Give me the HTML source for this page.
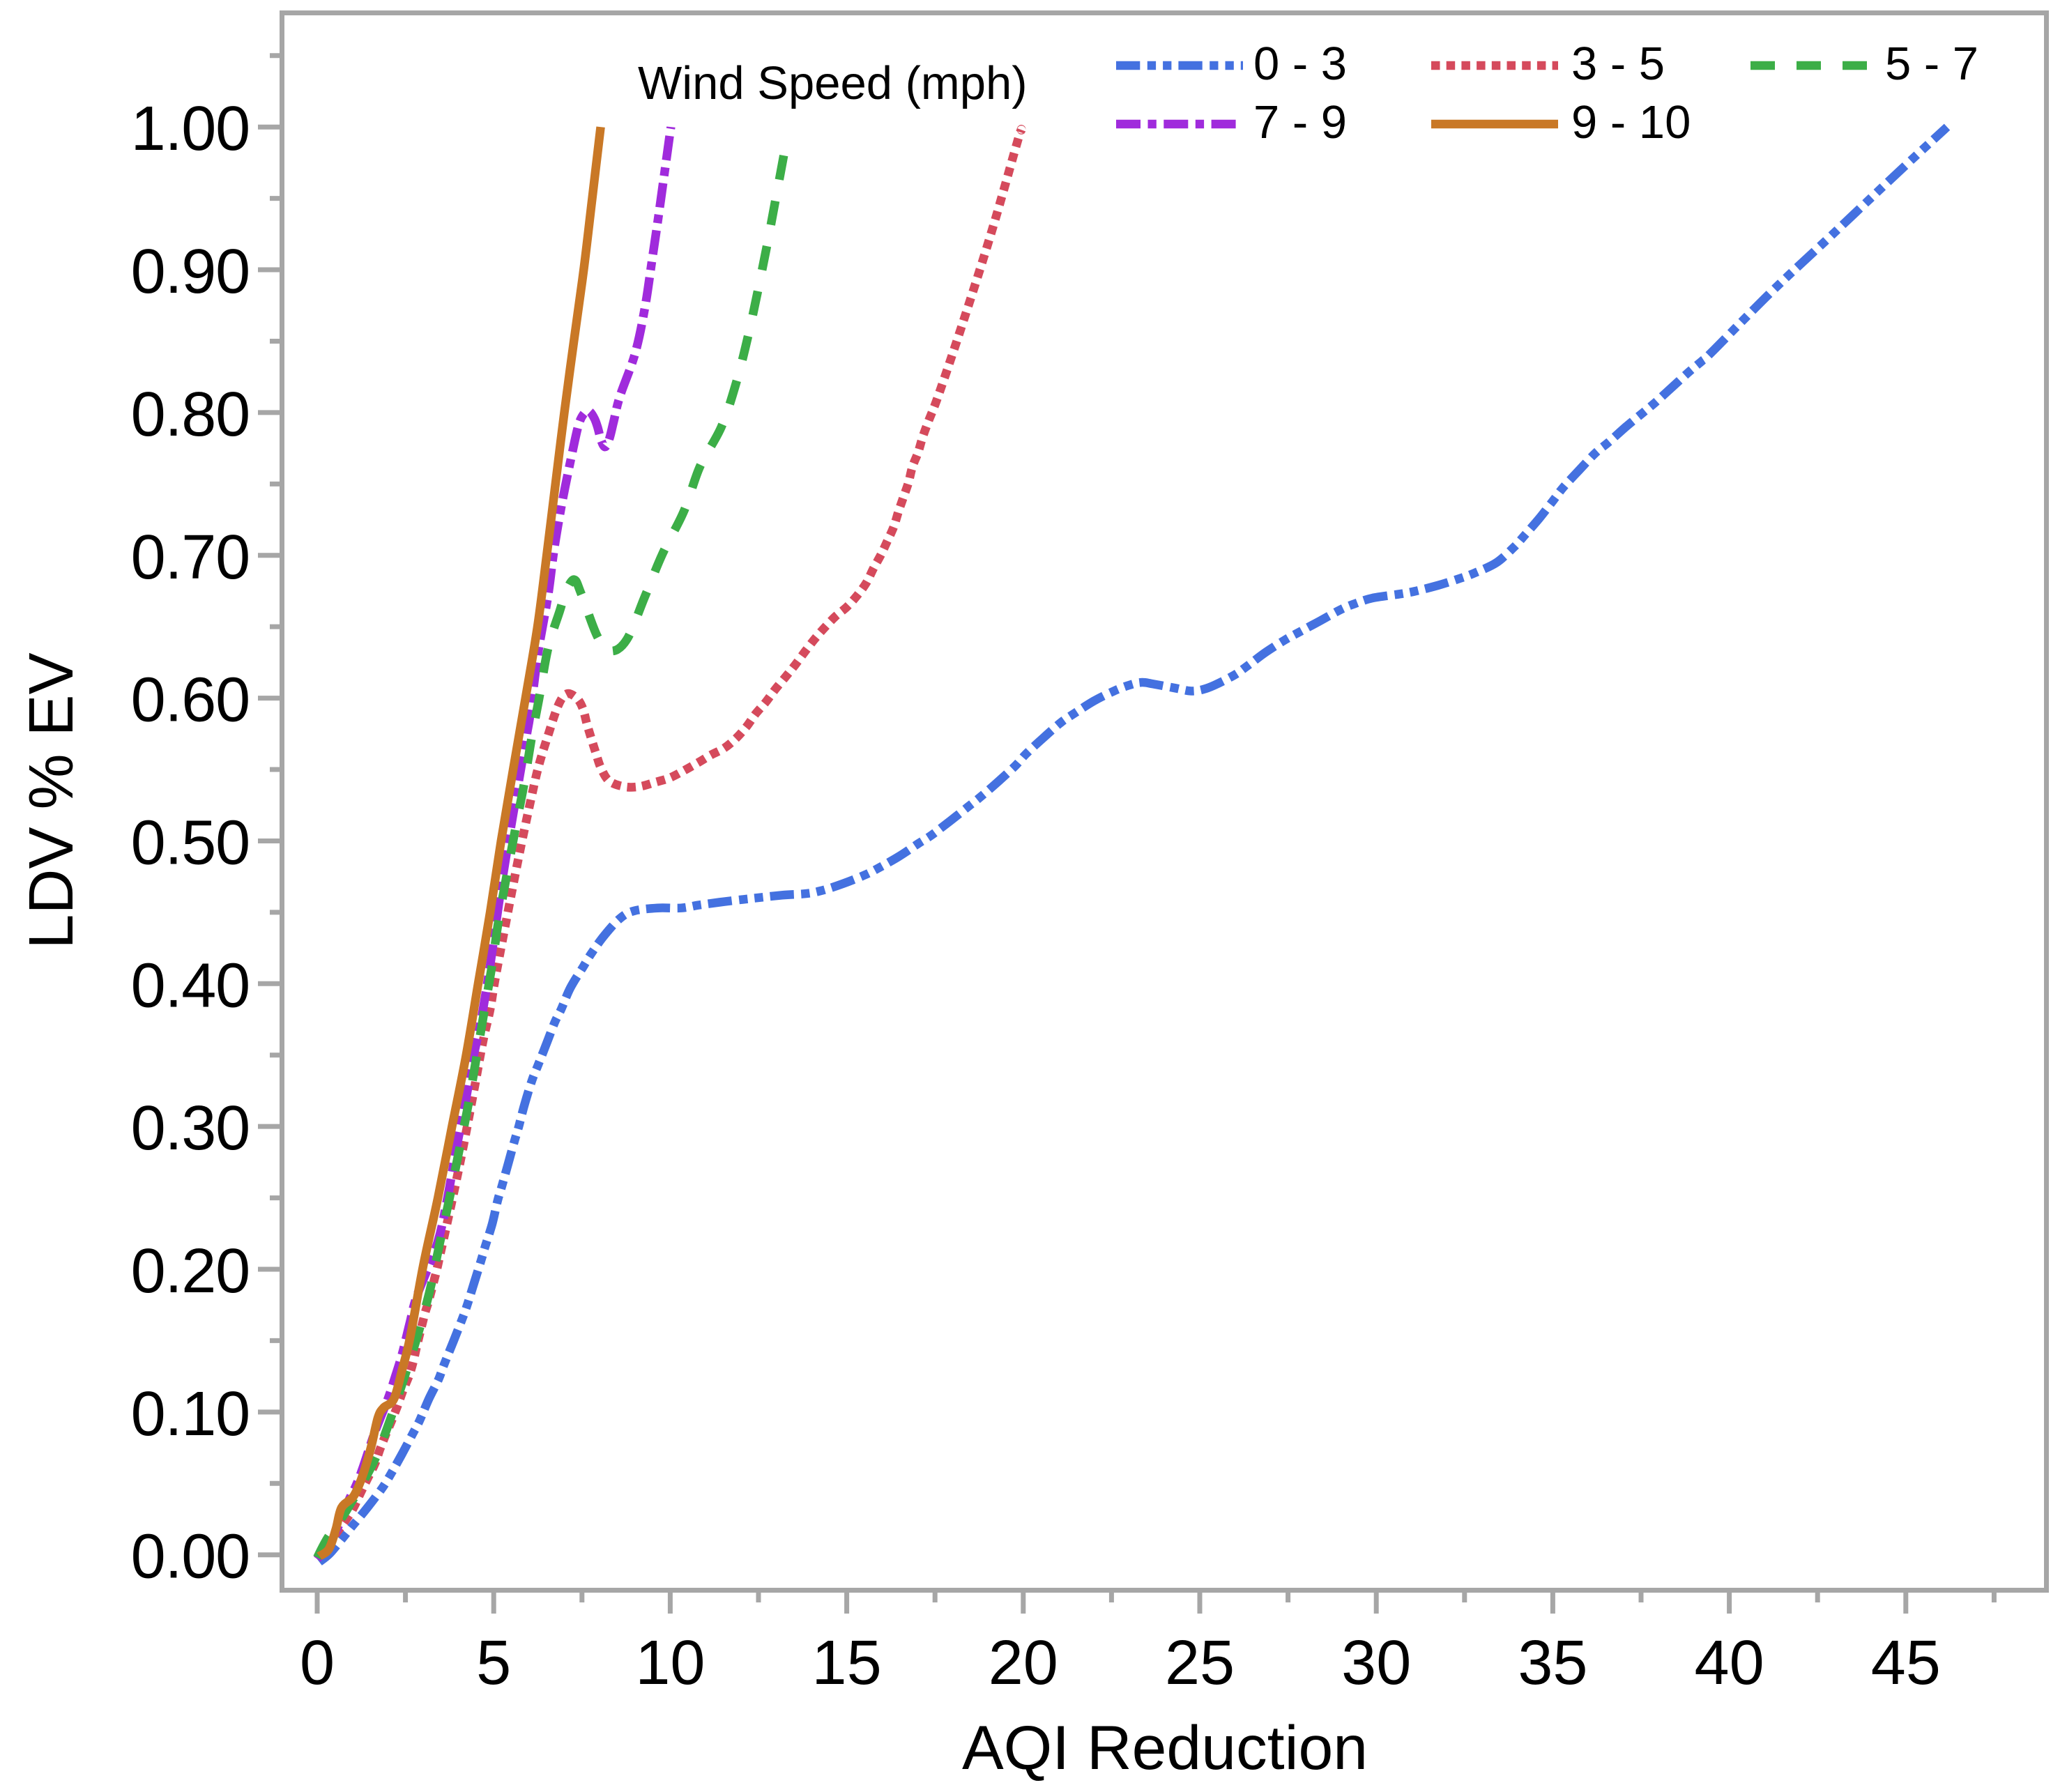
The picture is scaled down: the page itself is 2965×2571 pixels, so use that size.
<!DOCTYPE html>
<html lang="en">
<head>
<meta charset="utf-8">
<title>LDV % EV vs AQI Reduction</title>
<style>
  html, body { margin: 0; padding: 0; background: #fff; }
  svg { display: block; font-family: "Liberation Sans", Arial, sans-serif; }
</style>
</head>
<body>
<svg id="chart" xmlns="http://www.w3.org/2000/svg" width="2965" height="2571" viewBox="0 0 2965 2571">
  <rect x="0" y="0" width="2965" height="2571" fill="#ffffff"/>
  <g id="series-layer"></g>
  <g id="axis-layer"></g>
  <rect x="404.5" y="18.5" width="2531" height="2263" fill="none" stroke="#a6a6a6" stroke-width="7"/>
  <text x="1671" y="2538" font-size="89.5" text-anchor="middle">AQI Reduction</text>
  <text transform="translate(104 1149) rotate(-90)" font-size="90" text-anchor="middle">LDV % EV</text>
  <g>
    <text x="915" y="142" font-size="67">Wind Speed (mph)</text>
    <g>
      <line x1="1601" y1="94" x2="1783" y2="94" stroke="#4471E0" stroke-width="12.5" stroke-dasharray="34.3 10.5 12.3 10 12.3 10"/>
      <text x="1798" y="114" font-size="67">0 - 3</text>
    </g>
    <g>
      <line x1="2053" y1="94" x2="2235" y2="94" stroke="#D54A5C" stroke-width="12.5" stroke-dasharray="12.5 9.2"/>
      <text x="2254" y="114" font-size="67">3 - 5</text>
    </g>
    <g>
      <line x1="2511" y1="94" x2="2685" y2="94" stroke="#3CAE47" stroke-width="12.5" stroke-dasharray="35 31"/>
      <text x="2704" y="114" font-size="67">5 - 7</text>
    </g>
    <g>
      <line x1="1601" y1="178" x2="1783" y2="178" stroke="#A02BDC" stroke-width="12.5" stroke-dasharray="35 10.5 12.3 10.5"/>
      <text x="1798" y="198" font-size="67">7 - 9</text>
    </g>
    <g>
      <line x1="2053" y1="178" x2="2235" y2="178" stroke="#C97826" stroke-width="12.5"/>
      <text x="2254" y="198" font-size="67">9 - 10</text>
    </g>
  </g>
</svg>
<script>
const xMajorTicks = [0, 5, 10, 15, 20, 25, 30, 35, 40, 45];
const xMinorTicks = [2.5, 7.5, 12.5, 17.5, 22.5, 27.5, 32.5, 37.5, 42.5, 47.5];
const yMajorTicks = [0, 0.1, 0.2, 0.3, 0.4, 0.5, 0.6, 0.7, 0.8, 0.9, 1];
const yMinorTicks = [0.05, 0.15, 0.25, 0.35, 0.45, 0.55, 0.65, 0.75, 0.85, 0.95, 1.05];
const yTickLabels = ["0.00", "0.10", "0.20", "0.30", "0.40", "0.50", "0.60", "0.70", "0.80", "0.90", "1.00"];
const xTickLabels = ["0", "5", "10", "15", "20", "25", "30", "35", "40", "45"];

const speed0to3X = [0.06,0.36,0.73,0.99,1.42,1.82,2.05,2.39,2.69,2.90,3.16,3.44,3.59,3.85,4.09,4.25,4.44,4.64,4.76,4.96,5.11,5.23,5.41,5.59,5.71,5.88,6.08,6.24,6.48,6.73,6.91,7.17,7.54,7.76,8.14,8.59,8.98,9.64,10.31,10.80,11.39,12.07,13.17,13.82,14.26,14.89,15.50,15.90,16.47,17.02,17.40,17.93,18.44,18.80,19.31,19.79,20.08,20.56,21.07,21.43,22.0,22.57,22.99,23.34,23.66,24.31,24.74,25.08,25.41,25.97,26.32,26.86,27.43,27.80,28.40,28.99,29.38,29.88,30.69,31.12,31.75,32.39,32.82,33.41,33.91,34.20,34.62,35.03,35.31,35.76,36.22,36.57,37.07,37.56,37.90,38.39,38.88,39.22,39.53,41.21,42.89,44.77,46.17];
const speed0to3Y = [-0.005,0.001,0.012,0.020,0.033,0.046,0.055,0.070,0.084,0.094,0.109,0.123,0.133,0.149,0.164,0.175,0.190,0.206,0.216,0.232,0.248,0.258,0.274,0.290,0.300,0.316,0.332,0.342,0.357,0.373,0.382,0.397,0.412,0.421,0.434,0.446,0.451,0.453,0.453,0.455,0.457,0.459,0.462,0.463,0.465,0.470,0.476,0.481,0.489,0.498,0.504,0.514,0.524,0.531,0.542,0.553,0.561,0.572,0.583,0.589,0.598,0.605,0.609,0.611,0.610,0.607,0.605,0.606,0.609,0.616,0.622,0.632,0.641,0.646,0.654,0.662,0.666,0.670,0.673,0.675,0.679,0.684,0.688,0.695,0.706,0.714,0.726,0.739,0.748,0.760,0.772,0.779,0.790,0.800,0.807,0.818,0.829,0.836,0.843,0.885,0.924,0.968,1.0];

const speed3to5X = [0,0.83,1.05,1.24,1.44,1.64,1.78,1.94,2.11,2.27,2.43,2.61,2.73,2.82,3.04,3.16,3.38,3.48,3.67,3.95,4.21,4.46,4.70,4.90,5.04,5.37,5.71,6.08,6.28,6.54,6.83,7.07,7.35,7.52,7.64,7.76,7.90,8.04,8.27,8.69,9.12,9.56,9.97,10.37,10.80,11.14,11.53,11.87,12.16,12.42,12.70,12.97,13.27,13.53,13.80,14.08,14.36,14.67,15.01,15.30,15.56,15.76,15.96,16.15,16.33,16.47,16.61,16.75,16.86,17.02,17.14,17.30,17.61,18.33,19.12,19.85,19.95];
const speed3to5Y = [-0.003,0.025,0.034,0.044,0.054,0.064,0.074,0.084,0.094,0.104,0.115,0.126,0.136,0.146,0.168,0.178,0.199,0.210,0.231,0.263,0.295,0.328,0.360,0.382,0.403,0.446,0.489,0.532,0.553,0.574,0.595,0.603,0.600,0.593,0.582,0.572,0.561,0.551,0.542,0.538,0.538,0.541,0.544,0.549,0.555,0.560,0.565,0.572,0.580,0.589,0.597,0.606,0.615,0.623,0.632,0.641,0.649,0.657,0.664,0.672,0.681,0.691,0.700,0.710,0.720,0.731,0.741,0.751,0.762,0.772,0.782,0.793,0.813,0.866,0.928,0.991,0.998];

const speed5to7X = [0,0.30,0.83,1.58,2.03,2.53,2.86,3.20,3.46,3.75,4.01,4.27,4.50,4.70,4.94,5.13,5.37,5.61,5.86,6.08,6.28,6.54,6.87,7.05,7.28,7.48,7.94,8.31,8.77,9.28,9.78,10.39,10.84,11.45,11.87,12.20,12.48,12.74,12.99,13.29];
const speed5to7Y = [-0.002,0.012,0.031,0.064,0.092,0.129,0.155,0.186,0.217,0.250,0.282,0.314,0.347,0.376,0.411,0.443,0.476,0.508,0.540,0.573,0.599,0.635,0.661,0.675,0.683,0.673,0.643,0.633,0.641,0.671,0.701,0.731,0.762,0.790,0.821,0.853,0.885,0.917,0.950,0.990];

const speed7to9X = [0,0.33,0.60,0.89,1.09,1.28,1.62,2.0,2.2,2.4,2.63,2.82,3.40,3.69,3.93,4.19,4.42,4.64,4.90,5.08,5.27,5.49,5.71,5.94,6.04,6.26,6.54,6.71,6.93,7.20,7.40,7.55,7.70,7.85,7.94,8.05,8.16,8.28,8.40,8.57,9.0,9.28,9.48,9.67,9.85,9.99,10.02];
const speed7to9Y = [-0.003,0.008,0.020,0.038,0.048,0.060,0.085,0.109,0.124,0.140,0.163,0.181,0.218,0.250,0.283,0.316,0.348,0.374,0.413,0.445,0.477,0.510,0.542,0.575,0.590,0.632,0.672,0.704,0.736,0.769,0.791,0.799,0.801,0.796,0.790,0.780,0.776,0.782,0.794,0.811,0.841,0.873,0.906,0.938,0.970,0.995,1.0];

const speed9to10X = [0.06,0.33,0.53,0.69,1.03,1.28,1.52,1.72,1.88,2.17,2.41,2.63,3.00,3.42,3.82,4.22,4.56,4.90,5.21,5.55,5.90,6.24,6.50,6.75,7.00,7.27,7.55,7.79,8.03];
const speed9to10Y = [-0.001,0.004,0.018,0.033,0.041,0.055,0.075,0.096,0.103,0.109,0.130,0.152,0.202,0.250,0.300,0.350,0.400,0.450,0.500,0.550,0.600,0.650,0.700,0.750,0.800,0.850,0.900,0.950,1.0];

const xScale = function (v) { return 455 + 50.64 * v; };
const yScale = function (v) { return 2230.7 - 2048.5 * v; };
const NS = 'http://www.w3.org/2000/svg';
const axisLayer = document.getElementById('axis-layer');
const seriesLayer = document.getElementById('series-layer');

function tickLine(x1, y1, x2, y2) {
  const el = document.createElementNS(NS, 'line');
  el.setAttribute('x1', x1);
  el.setAttribute('y1', y1);
  el.setAttribute('x2', x2);
  el.setAttribute('y2', y2);
  el.setAttribute('stroke', '#a6a6a6');
  el.setAttribute('stroke-width', '7');
  axisLayer.appendChild(el);
  return el;
}

function tickText(str, x, y, anchor) {
  const el = document.createElementNS(NS, 'text');
  el.setAttribute('x', x);
  el.setAttribute('y', y);
  el.setAttribute('font-size', '90');
  el.setAttribute('text-anchor', anchor);
  el.textContent = str;
  axisLayer.appendChild(el);
  return el;
}

xMajorTicks.forEach(function (v, i) {
  const t = tickLine(xScale(v), 2281, xScale(v), 2315);
  
  
  const l = tickText(xTickLabels[i], xScale(v), 2416, 'middle');
  
  
});
xMinorTicks.forEach(function (v) {
  const t = tickLine(xScale(v), 2281, xScale(v), 2299);
  
  
});
yMajorTicks.forEach(function (v, i) {
  const t = tickLine(370, yScale(v), 405, yScale(v));
  
  
  const l = tickText(yTickLabels[i], 358, yScale(v) + 33, 'end');
  l.setAttribute('letter-spacing', '-1.2');
  
  
});
yMinorTicks.forEach(function (v) {
  const t = tickLine(387, yScale(v), 405, yScale(v));
  
  
});

function smoothPath(xs, ys) {
  const pts = xs.map(function (v, i) { return [xScale(v), yScale(ys[i])]; });
  let d = 'M' + pts[0][0].toFixed(1) + ' ' + pts[0][1].toFixed(1);
  for (let i = 0; i < pts.length - 1; i++) {
    const p0 = pts[Math.max(i - 1, 0)];
    const p1 = pts[i];
    const p2 = pts[i + 1];
    const p3 = pts[Math.min(i + 2, pts.length - 1)];
    const c1x = p1[0] + (p2[0] - p0[0]) / 6;
    const c1y = p1[1] + (p2[1] - p0[1]) / 6;
    const c2x = p2[0] - (p3[0] - p1[0]) / 6;
    const c2y = p2[1] - (p3[1] - p1[1]) / 6;
    d += 'C' + c1x.toFixed(1) + ' ' + c1y.toFixed(1) + ' ' + c2x.toFixed(1) + ' ' + c2y.toFixed(1) + ' ' + p2[0].toFixed(1) + ' ' + p2[1].toFixed(1);
  }
  return d;
}

function drawSeries(xs, ys, color, dash) {
  const el = document.createElementNS(NS, 'path');
  el.setAttribute('d', smoothPath(xs, ys));
  el.setAttribute('fill', 'none');
  el.setAttribute('stroke', color);
  el.setAttribute('stroke-width', '12.5');
  el.setAttribute('stroke-linejoin', 'round');
  if (dash) { el.setAttribute('stroke-dasharray', dash); }
  seriesLayer.appendChild(el);
  return el;
}

const lineBlue = drawSeries(speed0to3X, speed0to3Y, '#4471E0', '34.3 10.5 12.3 10 12.3 10');


const lineRed = drawSeries(speed3to5X, speed3to5Y, '#D54A5C', '12.5 9.2');


const linePurple = drawSeries(speed7to9X, speed7to9Y, '#A02BDC', '35 10.5 12.3 10.5');


const lineGreen = drawSeries(speed5to7X, speed5to7Y, '#3CAE47', '35 31');


const lineOrange = drawSeries(speed9to10X, speed9to10Y, '#C97826', '');


</script>
</body>
</html>
